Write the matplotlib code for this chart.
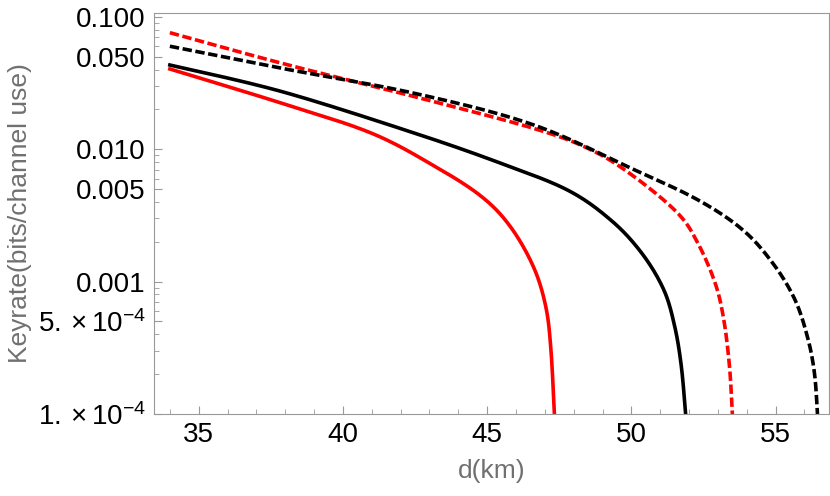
import numpy as np
import matplotlib.pyplot as plt

d_red_dash = [34, 37.9, 42.5, 46.6, 48.6, 50.1, 51.6, 52.3, 52.9, 53.2, 53.4, 53.5]
k_red_dash = [0.076, 0.0445, 0.0249, 0.0144, 0.0099, 0.0062, 0.0033, 0.00196, 9.8e-4, 5.2e-4, 2.3e-4, 1e-4]

d_blk_dash = [34, 37.9, 42.5, 46.6, 50.1, 52.3, 53.85, 54.9, 55.67, 56.12, 56.35, 56.45]
k_blk_dash = [0.060, 0.0408, 0.0264, 0.0153, 0.0070, 0.00415, 0.00247, 0.00138, 7.3e-4, 3.7e-4, 2.0e-4, 1e-4]

d_blk = [34, 37.9, 42.5, 45.5, 47.8, 49.3, 50.36, 51.12, 51.5, 51.73, 51.88]
k_blk = [0.0433, 0.0272, 0.0132, 0.0078, 0.0049, 0.0029, 0.00164, 8.7e-4, 4.6e-4, 2.3e-4, 1e-4]

d_red = [34, 37.9, 41.0, 43.2, 44.8, 45.8, 46.6, 47.03, 47.21, 47.33]
k_red = [0.0404, 0.0222, 0.0132, 0.0074, 0.0044, 0.00261, 0.0013, 6.5e-4, 3.07e-4, 1e-4]

y_ticks = [1e-4, 5e-4, 1e-3, 5e-3, 1e-2, 5e-2, 1e-1]
y_labels = [r'$1.\times10^{-4}$', r'$5.\times10^{-4}$', '0.001', '0.005', '0.010', '0.050', '0.100']
x_ticks = [35, 40, 45, 50, 55]

plt.rcParams['font.family'] = 'Liberation Sans'
plt.rcParams['mathtext.fontset'] = 'custom'
plt.rcParams['mathtext.rm'] = 'Liberation Sans'
plt.rcParams['mathtext.it'] = 'Liberation Sans'


def smooth(d, k):
    # draw a smooth curve through the read points (in log space), for rendering only
    d = np.asarray(d, float)
    lk = np.log10(k)
    t = np.linspace(0, 1, len(d))
    tt = np.linspace(0, 1, 300)
    from numpy.polynomial import polynomial as P
    # piecewise cubic Hermite (Catmull-Rom) through points
    xs, ys = [], []
    n = len(d)
    for i in range(n - 1):
        p0 = max(i - 1, 0); p3 = min(i + 2, n - 1)
        for s in np.linspace(0, 1, 30, endpoint=False):
            s2, s3 = s * s, s * s * s
            h = [-0.5*s3 + s2 - 0.5*s, 1.5*s3 - 2.5*s2 + 1, -1.5*s3 + 2*s2 + 0.5*s, 0.5*s3 - 0.5*s2]
            xs.append(h[0]*d[p0] + h[1]*d[i] + h[2]*d[i+1] + h[3]*d[p3])
            ys.append(h[0]*lk[p0] + h[1]*lk[i] + h[2]*lk[i+1] + h[3]*lk[p3])
    xs.append(d[-1]); ys.append(lk[-1])
    return np.array(xs), 10 ** np.array(ys)


fig = plt.figure(figsize=(8.3, 4.96), dpi=100)
ax = fig.add_axes([154/830, 1 - 414/496, (829-154)/830, (414-13)/496])

ax.plot(*smooth(d_red, k_red), color='red', lw=2.6)
ax.plot(*smooth(d_blk, k_blk), color='black', lw=2.6)
ax.plot(*smooth(d_red_dash, k_red_dash), color='red', lw=2.6, dashes=(2.6, 1.0))
ax.plot(*smooth(d_blk_dash, k_blk_dash), color='black', lw=2.6, dashes=(2.6, 1.0))

ax.set_yscale('log')
ax.set_xlim(33.45, 56.85)
ax.set_ylim(1e-4, 0.107)
ax.set_yticks(y_ticks)
ax.set_yticklabels(y_labels)
minor_y = [v * 1e-4 for v in (2, 3, 4, 6, 7, 8, 9)] + [v * 1e-3 for v in (2, 3, 4, 6, 7, 8, 9)] + [v * 1e-2 for v in (2, 3, 4, 6, 7, 8, 9)]
ax.set_yticks(minor_y, minor=True)
ax.set_xticks(x_ticks)
ax.set_xticks(np.arange(34, 57, 1), minor=True)

ax.tick_params(axis='both', which='major', direction='in', length=6, width=0.8, color='#999999', labelsize=20, pad=6)
ax.tick_params(axis='both', which='minor', direction='in', length=3.5, width=0.6, color='#999999')
ax.tick_params(axis='y', which='minor', labelleft=False)
for s in ax.spines.values():
    s.set_color('#999999')

ax.set_xlabel('d(km)', fontsize=19, color='#707070', labelpad=8)
ax.set_ylabel('Keyrate(bits/channel use)', fontsize=19, color='#707070', labelpad=4)

fig.savefig('out.png', dpi=100)
